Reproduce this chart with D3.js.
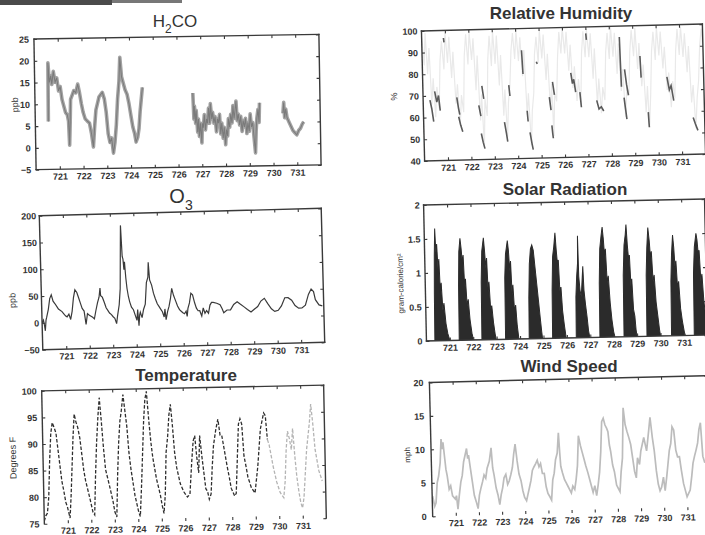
<!DOCTYPE html>
<html>
<head>
<meta charset="utf-8">
<script src="https://cdn.jsdelivr.net/npm/d3@7"></script>
<style>
  body { margin: 0; background: #fff; }
  svg { display: block; }
</style>
</head>
<body>
<svg id="chart" width="705" height="535"></svg>
<script>
// Shared x axis (day numbers)
const dayDomain = [720, 732];
const dayTicks = [721, 722, 723, 724, 725, 726, 727, 728, 729, 730, 731];
const dayLabels = ["721", "722", "723", "724", "725", "726", "727", "728", "729", "730", "731"];

// Y tick values per panel
const h2coTicks = [-5, 0, 5, 10, 15, 20, 25];
const rhTicks = [40, 50, 60, 70, 80, 90, 100];
const o3Ticks = [-50, 0, 50, 100, 150, 200];
const solarTicks = [0, 0.5, 1, 1.5, 2];
const tempTicks = [75, 80, 85, 90, 95, 100];
const windTicks = [0, 5, 10, 15, 20];

// H2CO (ppb), null = gap in record
const h2coPoints = [
  [720.55, 6], [720.57, 19.5], [720.62, 15], [720.68, 16.5], [720.72, 14.5], [720.79, 17.5], [720.86, 15],
  [720.93, 16], [721.0, 13], [721.07, 14], [721.14, 11], [721.21, 9.5], [721.28, 8], [721.35, 7.5],
  [721.40, 6], [721.43, 0.5], [721.47, 6], [721.50, 11], [721.57, 12], [721.64, 13], [721.72, 12.5],
  [721.81, 14.5], [721.88, 12.5], [721.95, 10], [722.02, 8], [722.10, 6.5], [722.18, 6], [722.28, 5.5],
  [722.36, 3], [722.43, 0], [722.50, 5], [722.56, 8.5], [722.63, 10], [722.70, 11.5], [722.77, 12],
  [722.84, 12.5], [722.92, 11], [722.99, 8], [723.06, 3], [723.13, 1], [723.20, 2], [723.27, -1.5],
  [723.34, 1], [723.41, 5], [723.48, 11], [723.55, 15], [723.60, 20.5], [723.66, 16], [723.73, 14.5],
  [723.80, 13], [723.88, 12], [723.95, 10], [724.03, 7], [724.10, 4.5], [724.17, 3], [724.23, 1],
  [724.30, 2], [724.36, 4], [724.42, 8], [724.48, 11], [724.53, 13.5],
  [724.6, null],
  [726.65, 12], [726.68, 6], [726.71, 9], [726.75, 5], [726.78, 8], [726.83, 3], [726.87, 6], [726.90, 2],
  [726.95, 5], [727.00, 0.5], [727.03, 5], [727.07, 4], [727.12, 7], [727.16, 3.5], [727.21, 6], [727.25, 5],
  [727.30, 8.5], [727.34, 5], [727.38, 9.5], [727.43, 6], [727.47, 7.5], [727.52, 5], [727.57, 6.5], [727.62, 3],
  [727.67, 6], [727.71, 5], [727.76, 7], [727.80, 2.5], [727.85, 5], [727.90, 1.5], [727.95, 4], [728.00, 0],
  [728.04, 3.5], [728.09, 2], [728.13, 6], [728.18, 4], [728.23, 7], [728.28, 5], [728.33, 9], [728.37, 6],
  [728.42, 8], [728.46, 10], [728.50, 5.5], [728.55, 7], [728.60, 4.5], [728.65, 6.5], [728.70, 3], [728.75, 5.5],
  [728.80, 4], [728.85, 6], [728.90, 2.5], [728.95, 5], [729.00, 3], [729.05, 7], [729.10, 4], [729.15, 5],
  [729.20, 1.5], [729.25, -2], [729.29, 3], [729.33, 6], [729.38, 8], [729.42, 5], [729.45, 9.5],
  [729.5, null],
  [730.43, 7], [730.47, 9.5], [730.50, 6], [730.55, 8], [730.60, 6], [730.68, 5], [730.76, 4],
  [730.84, 3], [730.92, 2.5], [731.00, 2], [731.08, 3], [731.16, 3.5], [731.24, 4.5], [731.30, 5]
];

// Relative humidity (%), faint full record
const rhPoints = [
  [720.00, 97], [720.08, 84], [720.15, 99], [720.22, 80], [720.30, 92], [720.37, 66], [720.45, 78], [720.52, 60], [720.60, 74], [720.68, 64], [720.76, 86], [720.84, 95], [720.92, 82],
  [721.00, 99], [721.08, 85], [721.16, 97], [721.24, 78], [721.32, 90], [721.40, 66], [721.48, 75], [721.56, 56], [721.64, 70], [721.72, 62], [721.80, 88], [721.88, 98], [721.95, 84],
  [722.03, 99], [722.11, 86], [722.19, 96], [722.27, 72], [722.35, 88], [722.43, 58], [722.50, 70], [722.57, 46], [722.64, 68], [722.72, 60], [722.80, 86], [722.88, 97], [722.95, 83],
  [723.03, 99], [723.11, 84], [723.19, 97], [723.27, 74], [723.35, 88], [723.43, 60], [723.50, 72], [723.57, 50], [723.64, 66], [723.72, 74], [723.80, 90], [723.88, 98], [723.95, 86],
  [724.03, 99], [724.11, 85], [724.19, 96], [724.27, 78], [724.35, 90], [724.43, 60], [724.50, 70], [724.58, 46], [724.65, 62], [724.73, 70], [724.80, 88], [724.88, 96], [724.95, 84],
  [725.03, 99], [725.11, 86], [725.19, 97], [725.27, 76], [725.35, 88], [725.43, 62], [725.50, 74], [725.55, 50], [725.62, 70], [725.70, 66], [725.78, 86], [725.86, 98], [725.93, 88],
  [726.01, 100], [726.09, 88], [726.17, 98], [726.25, 80], [726.33, 92], [726.41, 72], [726.49, 82], [726.57, 66], [726.65, 76], [726.73, 64], [726.81, 88], [726.89, 98], [726.96, 86],
  [727.04, 99], [727.12, 86], [727.20, 97], [727.28, 76], [727.36, 90], [727.44, 64], [727.52, 76], [727.60, 60], [727.68, 72], [727.76, 66], [727.84, 88], [727.92, 97], [727.99, 85],
  [728.07, 100], [728.15, 86], [728.23, 97], [728.31, 78], [728.39, 92], [728.47, 70], [728.55, 80], [728.63, 58], [728.71, 72], [728.79, 68], [728.87, 88], [728.95, 98],
  [729.03, 86], [729.11, 99], [729.19, 80], [729.27, 92], [729.35, 72], [729.43, 82], [729.51, 60], [729.59, 72], [729.64, 53], [729.72, 68], [729.80, 88], [729.88, 97], [729.95, 84],
  [730.03, 99], [730.11, 86], [730.19, 97], [730.27, 80], [730.35, 90], [730.43, 70], [730.51, 78], [730.59, 62], [730.67, 74], [730.75, 66], [730.83, 88], [730.91, 98], [730.98, 86],
  [731.06, 99], [731.14, 85], [731.22, 96], [731.30, 78], [731.38, 90], [731.46, 64], [731.54, 72], [731.62, 52], [731.70, 66], [731.78, 74], [731.86, 90], [731.94, 98], [732.00, 88]
];

// Relative humidity (%), darker fragments that survive in the print
const rhDarkPoints = [
  [720.29, 68], [720.36, 64], [720.43, 58], [720.45, null],
  [720.50, 72], [720.58, 67], [720.66, 70], [720.72, 63], [720.75, null],
  [720.93, 96.5], [720.95, 94.5], [720.97, null],
  [721.44, 69], [721.50, 64], [721.55, 61], [721.56, null],
  [721.50, 60], [721.58, 56], [721.66, 53], [721.68, null],
  [722.37, 65], [722.45, 60], [722.47, null],
  [722.52, 74], [722.59, 68], [722.60, null],
  [722.45, 52], [722.52, 48], [722.59, 45], [722.61, null],
  [723.45, 57], [723.52, 52], [723.57, 48], [723.59, null],
  [723.67, 74], [723.71, 69], [723.73, null],
  [724.25, 90], [724.29, 79], [724.31, null],
  [724.43, 62], [724.46, 57], [724.48, null],
  [724.53, 52], [724.60, 47], [724.65, 44], [724.67, null],
  [724.87, 84.5], [724.91, 83.5], [724.93, null],
  [725.39, 68], [725.45, 62], [725.46, null],
  [725.47, 55], [725.50, 51], [725.52, 49], [725.53, null],
  [725.54, 75], [725.61, 69], [725.63, null],
  [726.33, 79], [726.39, 74], [726.45, 76], [726.52, 70], [726.54, null],
  [726.70, 70], [726.75, 63], [726.77, null],
  [727.01, 97], [727.03, 94], [727.05, null],
  [727.41, 66], [727.50, 62], [727.60, 63], [727.70, 61], [727.72, null],
  [728.44, 95], [728.46, 83], [728.48, 72], [728.50, null],
  [728.58, 67], [728.63, 62], [728.68, 57], [728.69, null],
  [728.63, 80], [728.70, 73], [728.77, 68], [728.79, null],
  [729.30, 86], [729.33, 76], [729.35, null],
  [729.60, 60], [729.62, 55], [729.63, 53], [729.65, null],
  [730.43, 76], [730.52, 70], [730.60, 72], [730.70, 65], [730.72, null],
  [731.51, 57], [731.60, 54], [731.70, 51]
];

// O3 (ppb)
const o3Points = [
  [720.0, 0], [720.06, 5], [720.10, -5], [720.13, -15], [720.17, 5], [720.20, 10], [720.28, 25], [720.35, 45],
  [720.42, 52], [720.49, 40], [720.57, 35], [720.64, 30], [720.71, 25], [720.86, 20], [720.95, 15], [721.0, 12],
  [721.07, 10], [721.15, 15], [721.22, 5], [721.29, 20], [721.36, 45], [721.43, 60], [721.51, 55], [721.58, 45],
  [721.65, 35], [721.72, 25], [721.80, 20], [721.87, -5], [721.94, 15], [722.02, 12], [722.09, 10], [722.16, 8],
  [722.23, 5], [722.30, 20], [722.38, 35], [722.45, 45], [722.50, 62], [722.52, 48], [722.59, 45], [722.67, 35],
  [722.74, 25], [722.81, 20], [722.88, 15], [722.96, 12], [723.03, 8], [723.10, 5], [723.17, -5], [723.22, 10],
  [723.30, 30], [723.36, 60], [723.40, 120], [723.44, 178], [723.48, 120], [723.51, 115], [723.54, 95], [723.57, 110],
  [723.61, 80], [723.65, 60], [723.70, 45], [723.75, 35], [723.82, 25], [723.90, 20], [723.97, 10], [724.04, 0],
  [724.08, 20], [724.12, -10], [724.16, 10], [724.19, 15], [724.26, 5], [724.33, 20], [724.41, 30], [724.48, 70],
  [724.55, 80], [724.58, 108], [724.62, 75], [724.70, 65], [724.77, 50], [724.84, 40], [724.92, 30], [724.99, 25],
  [725.06, 20], [725.13, 15], [725.20, 5], [725.24, 20], [725.28, 0], [725.35, 15], [725.42, 25], [725.49, 40],
  [725.55, 58], [725.62, 45], [725.70, 35], [725.78, 25], [725.86, 18], [725.93, 15], [726.00, 12], [726.07, 10],
  [726.14, 15], [726.18, 5], [726.22, 20], [726.29, 30], [726.36, 48], [726.43, 45], [726.51, 30], [726.58, 20],
  [726.65, 15], [726.72, 15], [726.80, 5], [726.87, 20], [726.94, 10], [727.01, 15], [727.09, 10], [727.16, 25],
  [727.23, 30], [727.30, 30], [727.45, 28], [727.59, 25], [727.67, 18], [727.74, 10], [727.88, 15], [728.03, 15],
  [728.17, 25], [728.32, 30], [728.46, 25], [728.61, 20], [728.75, 15], [728.90, 10], [729.04, 15], [729.19, 20],
  [729.33, 30], [729.48, 35], [729.62, 25], [729.77, 15], [729.91, 10], [730.06, 12], [730.20, 20], [730.35, 35],
  [730.49, 35], [730.64, 30], [730.78, 20], [730.93, 15], [731.07, 15], [731.22, 20], [731.36, 40], [731.48, 50],
  [731.58, 45], [731.65, 30], [731.80, 20], [731.94, 18]
];

// Solar radiation (gram-calorie/cm2)
const solarPoints = [
  [720.00, 0], [720.36, 0], [720.38, 0.7], [720.41, 1.25], [720.45, 1.65], [720.48, 1.3], [720.52, 1.42], [720.56, 1.05], [720.60, 1.2], [720.64, 0.7], [720.68, 0.85], [720.73, 0.45], [720.78, 0.55], [720.85, 0.25], [720.92, 0.1], [721.00, 0],
  [721.40, 0], [721.42, 0.8], [721.46, 1.3], [721.52, 1.5], [721.56, 1.35], [721.60, 1.15], [721.64, 1.25], [721.68, 0.8], [721.72, 0.9], [721.77, 0.5], [721.82, 0.6], [721.88, 0.3], [721.95, 0.1], [722.01, 0],
  [722.37, 0], [722.39, 0.85], [722.44, 1.3], [722.52, 1.5], [722.56, 1.3], [722.60, 1.05], [722.64, 1.2], [722.68, 0.7], [722.72, 0.85], [722.77, 0.45], [722.82, 0.5], [722.88, 0.25], [722.94, 0.08], [722.98, 0],
  [723.38, 0], [723.40, 0.9], [723.45, 1.25], [723.54, 1.45], [723.58, 1.3], [723.62, 1.0], [723.66, 1.15], [723.70, 0.65], [723.74, 0.8], [723.79, 0.4], [723.84, 0.5], [723.89, 0.2], [723.95, 0],
  [724.39, 0], [724.41, 0.6], [724.46, 1.1], [724.52, 1.32], [724.58, 1.38], [724.64, 1.3], [724.70, 1.05], [724.76, 0.8], [724.82, 0.55], [724.88, 0.3], [724.93, 0.1], [724.96, 0],
  [725.39, 0], [725.41, 0.7], [725.46, 1.2], [725.52, 1.35], [725.58, 1.55], [725.62, 1.3], [725.66, 1.1], [725.70, 1.15], [725.74, 0.7], [725.79, 0.75], [725.84, 0.4], [725.90, 0.2], [725.97, 0],
  [726.40, 0], [726.42, 0.6], [726.47, 0.9], [726.52, 1.1], [726.54, 1.5], [726.56, 0.9], [726.60, 0.7], [726.65, 0.6], [726.70, 0.85], [726.74, 1.05], [726.77, 0.7], [726.82, 0.5], [726.88, 0.3], [726.93, 0.1], [726.98, 0],
  [727.41, 0], [727.43, 0.8], [727.48, 1.3], [727.55, 1.5], [727.60, 1.62], [727.64, 1.45], [727.68, 1.2], [727.72, 1.3], [727.77, 0.8], [727.82, 0.9], [727.88, 0.5], [727.94, 0.25], [728.00, 0.08], [728.05, 0],
  [728.44, 0], [728.46, 0.9], [728.52, 1.35], [728.58, 1.5], [728.62, 1.65], [728.66, 1.35], [728.70, 1.15], [728.74, 1.2], [728.78, 0.75], [728.82, 0.85], [728.87, 0.4], [728.92, 0.3], [728.96, 0.1], [729.00, 0],
  [729.42, 0], [729.44, 0.9], [729.49, 1.3], [729.55, 1.6], [729.60, 1.4], [729.64, 1.15], [729.68, 1.25], [729.73, 0.8], [729.78, 0.9], [729.84, 0.5], [729.90, 0.3], [729.96, 0.1], [730.00, 0],
  [730.47, 0], [730.49, 0.8], [730.54, 1.2], [730.60, 1.48], [730.64, 1.3], [730.68, 1.0], [730.72, 1.1], [730.77, 0.7], [730.82, 0.8], [730.88, 0.4], [730.95, 0.2], [731.02, 0.05], [731.06, 0],
  [731.44, 0], [731.46, 0.9], [731.52, 1.3], [731.60, 1.5], [731.64, 1.4], [731.68, 1.2], [731.72, 1.25], [731.77, 0.8], [731.82, 0.9], [731.88, 0.5], [731.94, 0.3], [732.00, 0.1]
];

// Temperature (degrees F), dark part of the record
const tempPoints = [
  [720.0, 75.5], [720.07, 76.5], [720.14, 77], [720.21, 80], [720.28, 87], [720.35, 92], [720.42, 94], [720.50, 93],
  [720.57, 92], [720.64, 89], [720.71, 86], [720.78, 83], [720.86, 81], [720.93, 79], [721.0, 78], [721.10, 76],
  [721.16, 80], [721.22, 85], [721.29, 91], [721.36, 95.5], [721.43, 94], [721.50, 93], [721.58, 91], [721.65, 88],
  [721.72, 85], [721.79, 83], [721.94, 80], [722.08, 77], [722.15, 76.5], [722.22, 84], [722.29, 90], [722.37, 95],
  [722.44, 98.5], [722.51, 94], [722.58, 89], [722.65, 85], [722.80, 82], [722.94, 79], [723.01, 77], [723.09, 76],
  [723.16, 84], [723.23, 90], [723.30, 94], [723.37, 96], [723.45, 99], [723.52, 96], [723.59, 93], [723.66, 88],
  [723.73, 85], [723.88, 80], [724.02, 77], [724.09, 76], [724.17, 82], [724.24, 88], [724.31, 94], [724.38, 98],
  [724.45, 99.5], [724.53, 94], [724.60, 90], [724.67, 87], [724.81, 83], [724.96, 80], [725.03, 78], [725.10, 76.5],
  [725.17, 80], [725.24, 88], [725.32, 91], [725.39, 95], [725.46, 97], [725.53, 93], [725.60, 88], [725.68, 85],
  [725.82, 82], [725.96, 80.5], [726.11, 79.5], [726.22, 80], [726.32, 86], [726.40, 90], [726.47, 91], [726.54, 87],
  [726.61, 84], [726.68, 91], [726.76, 87], [726.83, 84], [726.90, 81], [726.97, 80.5], [727.04, 79], [727.12, 80],
  [727.19, 85], [727.26, 89], [727.37, 92], [727.47, 94], [727.55, 91], [727.62, 91], [727.69, 89], [727.83, 85],
  [727.91, 83], [727.98, 81], [728.12, 79.5], [728.19, 80], [728.27, 87], [728.34, 93], [728.41, 94], [728.48, 93],
  [728.55, 87], [728.63, 85], [728.70, 83], [728.84, 81], [728.99, 80], [729.13, 85], [729.27, 92], [729.42, 95],
  [729.49, 94.5], [729.56, 90]
];

// Temperature (degrees F), faint end of the record
const tempFadedPoints = [
  [729.56, 90], [729.63, 89], [729.78, 85], [729.92, 82], [730.06, 80], [730.21, 79], [730.28, 82], [730.35, 88],
  [730.42, 91.5], [730.50, 90], [730.57, 88], [730.64, 92], [730.71, 87], [730.78, 83], [730.86, 80], [730.93, 78],
  [731.0, 77], [731.07, 79], [731.22, 88], [731.36, 93], [731.43, 96.5], [731.50, 93], [731.58, 88], [731.72, 84],
  [731.86, 82]
];

// Wind speed (mph)
const windPoints = [
  [719.95, 1], [720.02, 3], [720.10, 1.5], [720.16, 2], [720.23, 5], [720.30, 6], [720.38, 8], [720.44, 11.5],
  [720.48, 10], [720.52, 11], [720.57, 9], [720.62, 7], [720.67, 6], [720.74, 4], [720.81, 4.5], [720.88, 3],
  [721.00, 2.5], [721.05, 3], [721.10, 1], [721.17, 3], [721.25, 5], [721.32, 6], [721.39, 8], [721.46, 9],
  [721.53, 10], [721.57, 8.5], [721.61, 9], [721.68, 7], [721.75, 5], [721.82, 3], [721.90, 2], [721.97, 1],
  [722.04, 3], [722.11, 4], [722.19, 5], [722.26, 6], [722.33, 5.5], [722.40, 7], [722.50, 8], [722.59, 10],
  [722.64, 7], [722.69, 6], [722.77, 4], [722.84, 3], [722.91, 1.5], [722.98, 3], [723.05, 4], [723.12, 5.5],
  [723.20, 6], [723.27, 4.5], [723.34, 5], [723.42, 6], [723.49, 7], [723.56, 9], [723.63, 10.5], [723.70, 8],
  [723.77, 6], [723.85, 5], [723.92, 3.5], [723.99, 2.5], [724.07, 2], [724.14, 3], [724.21, 4], [724.28, 5],
  [724.35, 6.5], [724.42, 7], [724.50, 7.5], [724.57, 8], [724.64, 7], [724.71, 7.5], [724.78, 6], [724.86, 6],
  [724.93, 4], [725.00, 3], [725.08, 2.5], [725.15, 2], [725.22, 5], [725.29, 6], [725.36, 8], [725.44, 9],
  [725.51, 12], [725.55, 9], [725.58, 7], [725.65, 6], [725.73, 5], [725.80, 4.5], [725.87, 4], [725.94, 3.5],
  [726.01, 3], [726.08, 4], [726.16, 3.5], [726.23, 5], [726.30, 7], [726.37, 11.5], [726.45, 10], [726.52, 9],
  [726.59, 8], [726.66, 7], [726.74, 6], [726.81, 5], [726.88, 4], [726.95, 3], [727.03, 4], [727.10, 2.5],
  [727.17, 4], [727.25, 6], [727.32, 9], [727.39, 13.5], [727.46, 14], [727.53, 13], [727.60, 12.5], [727.65, 12],
  [727.70, 10], [727.75, 9], [727.82, 7], [727.89, 6], [727.97, 4], [728.04, 3.5], [728.11, 3], [728.18, 6],
  [728.25, 8], [728.33, 15.5], [728.40, 13], [728.47, 12], [728.55, 11], [728.62, 10], [728.69, 8], [728.76, 6],
  [728.83, 5], [728.90, 8], [728.98, 7], [729.05, 9], [729.12, 10], [729.19, 11], [729.30, 9], [729.41, 12],
  [729.48, 14], [729.56, 11], [729.63, 9], [729.70, 6], [729.77, 4], [729.84, 3], [729.91, 3.5], [730.00, 5],
  [730.06, 3], [730.14, 5], [730.21, 7], [730.28, 9], [730.35, 10], [730.42, 12.5], [730.49, 12], [730.56, 9],
  [730.63, 8], [730.71, 8], [730.78, 6], [730.86, 4], [730.93, 3], [731.00, 2], [731.07, 2.5], [731.14, 3],
  [731.22, 5], [731.29, 7], [731.36, 8], [731.44, 9], [731.51, 10], [731.58, 12], [731.65, 13], [731.72, 8],
  [731.80, 7]
];

// Color palette
const COLORS = {
  ink: "#333333",
  frame: "#3a3a3a",
  h2coBand: "#a2a2a2",
  h2coCore: "#7a7a7a",
  o3: "#3a3a3a",
  rhFaint: "#e9e9e9",
  rhDark: "#5a5a5a",
  solar: "#2b2b2b",
  temp: "#2e2e2e",
  tempFaded: "#b4b4b4",
  wind: "#bcbcbc",
};

const FONTS = {
  title: "'Liberation Sans', Arial, sans-serif",
  tick: "'Liberation Sans Narrow', 'Liberation Sans', Arial, sans-serif",
};

// Panel layout (scanned page is slightly rotated, hence the angles)
const PANELS = {
  h2co: { left: 35, top: 36.7, width: 285, height: 130.6, angle: -0.95, yDomain: [-5, 25], yTicks: h2coTicks,
    yLabel: "ppb", yLabelX: -17, yLabelSize: 9, yPad: 5, bottomLine: true },
  rh: { left: 423, top: 27.5, width: 281, height: 130, angle: -1.4, yDomain: [40, 100], yTicks: rhTicks,
    yLabel: "%", yLabelX: -26, yLabelSize: 9, yPad: 4, bottomLine: true },
  o3: { left: 41, top: 212, width: 282, height: 134, angle: -1.5, yDomain: [-50, 200], yTicks: o3Ticks,
    yLabel: "ppb", yLabelX: -26, yLabelSize: 9, yPad: 3, bottomLine: true, yLabelShift: 17 },
  solar: { left: 425, top: 202, width: 281, height: 136, angle: -1.2, yDomain: [0, 2], yTicks: solarTicks,
    yLabel: "gram-calorie/cm²", yLabelX: -22, yLabelSize: 8, yPad: 4, bottomLine: true, yLabelShift: 10 },
  temp: { left: 43, top: 388, width: 282, height: 133, angle: -1.15, yDomain: [75, 100], yTicks: tempTicks,
    yLabel: "Degrees F", yLabelX: -27, yLabelSize: 9, yPad: 5, bottomLine: false },
  wind: { left: 431, top: 379, width: 278, height: 134, angle: -1.4, yDomain: [0, 20], yTicks: windTicks,
    yLabel: "mph", yLabelX: -21, yLabelSize: 8, yPad: 6, bottomLine: false, yLabelShift: 5 },
};

const svg = d3.select("#chart");

// scan artefact along the top edge
svg.append("rect").attr("x", 0).attr("y", 0).attr("width", 112).attr("height", 5).attr("fill", "#4a4a4a");
svg.append("rect").attr("x", 112).attr("y", 0).attr("width", 70).attr("height", 3).attr("fill", "#777");

/**
 * Builds one framed panel with its scales and axes, returns {g, x, y}
 */
function drawPanel(key) {
  const p = PANELS[key];
  const w = p.width;
  const h = p.height;

  const g = svg.append("g")
    .attr("transform", `translate(${p.left},${p.top}) rotate(${p.angle},${w / 2},${h / 2})`);

  const x = d3.scaleLinear().domain(dayDomain).range([0, w]);
  const y = d3.scaleLinear().domain(p.yDomain).range([h, 0]);

  g.append("clipPath").attr("id", `clip-${key}`)
    .append("rect").attr("width", w).attr("height", h);

  const plot = g.append("g").attr("clip-path", `url(#clip-${key})`);

  // axes with inward ticks
  const bottom = g.append("g")
    .attr("transform", `translate(0,${h})`)
    .call(d3.axisBottom(x).tickValues(dayTicks).tickFormat((d, i) => dayLabels[i])
      .tickSizeInner(-3).tickSizeOuter(0).tickPadding(4));

  const top = g.append("g")
    .call(d3.axisTop(x).tickValues(dayTicks).tickFormat("").tickSizeInner(-3).tickSizeOuter(0));

  const left = g.append("g")
    .call(d3.axisLeft(y).tickValues(p.yTicks).tickFormat(d3.format("~g"))
      .tickSizeInner(-3).tickSizeOuter(0).tickPadding(p.yPad));

  const right = g.append("g")
    .attr("transform", `translate(${w},0)`)
    .call(d3.axisRight(y).tickValues(p.yTicks).tickFormat("").tickSizeInner(-3).tickSizeOuter(0));

  [bottom, top, left, right].forEach((a) => {
    a.select(".domain").remove();
    a.selectAll(".tick line").attr("stroke", COLORS.frame).attr("stroke-width", 1.1);
    a.selectAll(".tick text")
      .attr("fill", COLORS.ink)
      .style("font-family", FONTS.tick)
      .style("font-size", "9px")
      .style("font-weight", "bold");
  });

  // frame
  const frame = [[0, 0, w, 0], [w, 0, w, h], [0, 0, 0, h]];
  if (p.bottomLine) frame.push([0, h, w, h]);
  g.selectAll(".frame")
    .data(frame)
    .enter()
    .append("line")
    .attr("x1", (d) => d[0]).attr("y1", (d) => d[1])
    .attr("x2", (d) => d[2]).attr("y2", (d) => d[3])
    .attr("stroke", COLORS.frame)
    .attr("stroke-width", 1.4)
    .attr("stroke-linecap", "square");

  // y label
  g.append("text")
    .attr("transform", `translate(${p.yLabelX},${h / 2 + (p.yLabelShift || 0)}) rotate(-90)`)
    .attr("text-anchor", "middle")
    .attr("fill", COLORS.ink)
    .style("font-family", FONTS.tick)
    .style("font-size", p.yLabelSize + "px")
    .text(p.yLabel);

  return { g: plot, x, y };
}

function lineGen(x, y) {
  return d3.line()
    .defined((d) => d[1] !== null)
    .x((d) => x(d[0]))
    .y((d) => y(d[1]));
}

/**
 * Title with optional subscript part
 */
function drawTitle(parts, cx, baseline, size, weight) {
  const t = svg.append("text")
    .attr("x", cx)
    .attr("y", baseline)
    .attr("text-anchor", "middle")
    .attr("fill", COLORS.ink)
    .style("font-family", FONTS.title)
    .style("font-size", size + "px")
    .style("font-weight", weight);
  parts.forEach((part) => {
    const span = t.append("tspan").text(part.text);
    if (part.sub) {
      span.attr("dy", size * 0.33).style("font-size", (size * 0.7) + "px");
    } else if (part.after) {
      span.attr("dy", -size * 0.33);
    }
  });
}

// H2CO
{
  const { g, x, y } = drawPanel("h2co");
  const line = lineGen(x, y);
  g.append("path").datum(h2coPoints).attr("d", line)
    .attr("fill", "none").attr("stroke", COLORS.h2coBand).attr("stroke-width", 3.6).attr("stroke-linejoin", "round");
  g.append("path").datum(h2coPoints).attr("d", line)
    .attr("fill", "none").attr("stroke", COLORS.h2coCore).attr("stroke-width", 1);
}

// Relative Humidity
{
  const { g, x, y } = drawPanel("rh");
  const line = lineGen(x, y);
  g.append("path").datum(rhPoints).attr("d", line)
    .attr("fill", "none").attr("stroke", COLORS.rhFaint).attr("stroke-width", 1.2);
  g.append("path").datum(rhDarkPoints).attr("d", line)
    .attr("fill", "none").attr("stroke", COLORS.rhDark).attr("stroke-width", 1.6);
}

// O3
{
  const { g, x, y } = drawPanel("o3");
  g.append("path").datum(o3Points).attr("d", lineGen(x, y))
    .attr("fill", "none").attr("stroke", COLORS.o3).attr("stroke-width", 1.2);
}

// Solar Radiation
{
  const { g, x, y } = drawPanel("solar");
  const area = d3.area().x((d) => x(d[0])).y0(y(0)).y1((d) => y(d[1]));
  g.append("path").datum(solarPoints).attr("d", area)
    .attr("fill", COLORS.solar).attr("stroke", COLORS.solar).attr("stroke-width", 1);
}

// Temperature
{
  const { g, x, y } = drawPanel("temp");
  const line = lineGen(x, y);
  g.append("path").datum(tempPoints).attr("d", line)
    .attr("fill", "none").attr("stroke", COLORS.temp).attr("stroke-width", 1.3).attr("stroke-dasharray", "3.5,1.8");
  g.append("path").datum(tempFadedPoints).attr("d", line)
    .attr("fill", "none").attr("stroke", COLORS.tempFaded).attr("stroke-width", 1.3).attr("stroke-dasharray", "3.5,1.8");
}

// Wind Speed
{
  const { g, x, y } = drawPanel("wind");
  g.append("path").datum(windPoints).attr("d", lineGen(x, y))
    .attr("fill", "none").attr("stroke", COLORS.wind).attr("stroke-width", 1.7);
}

// titles
drawTitle([{ text: "H" }, { text: "2", sub: true }, { text: "CO", after: true }], 175, 27, 17, "normal");
drawTitle([{ text: "Relative Humidity" }], 561, 18.5, 17, "bold");
drawTitle([{ text: "O" }, { text: "3", sub: true }], 181, 203, 20, "normal");
drawTitle([{ text: "Solar Radiation" }], 565, 194.5, 17, "bold");
drawTitle([{ text: "Temperature" }], 186, 381, 17, "bold");
drawTitle([{ text: "Wind Speed" }], 569, 372, 17, "bold");
</script>
</body>
</html>
